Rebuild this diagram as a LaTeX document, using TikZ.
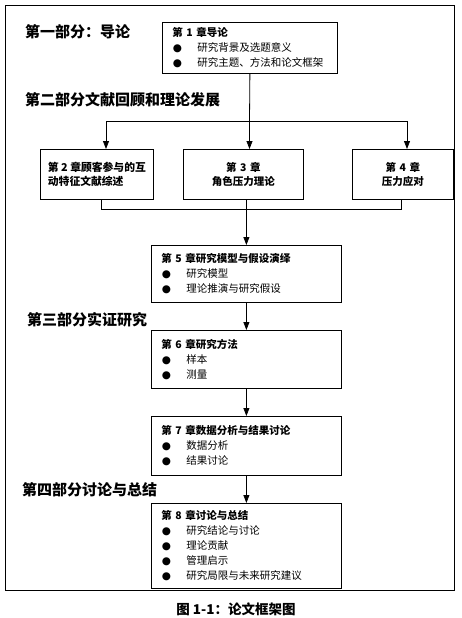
\documentclass[tikz,border=0pt]{standalone}
\usepackage{fontspec}
\setmainfont{Noto Sans CJK SC}
\newfontfamily\dejavu{DejaVu Sans}
\usetikzlibrary{arrows.meta}
\newcommand{\bitem}{\makebox[25pt][l]{\hspace{0.5pt}{\dejavu ●}}}
\tikzset{
  outerframe/.style={draw, line width=1.1pt, anchor=north west, inner sep=0pt},
  chap/.style={draw, line width=0.8pt, anchor=north west, inner xsep=10pt, inner ysep=0pt,
    align=left, font=\fontsize{10.5}{15}\selectfont},
  chapc/.style={draw, line width=0.8pt, anchor=north west, inner xsep=4pt, inner ysep=0pt,
    align=center, font=\fontsize{10.5}{14}\selectfont\bfseries},
  chapl/.style={draw, line width=0.8pt, anchor=north west, inner sep=0pt,
    align=left, font=\fontsize{10.8}{13.5}\selectfont\bfseries},
  part/.style={anchor=west, inner sep=0pt, font=\fontsize{15}{18}\selectfont\bfseries},
  conn/.style={line width=0.8pt},
  arr/.style={line width=0.8pt, -{Triangle[length=8pt,width=6pt]}}
}
\begin{document}
\begin{tikzpicture}[x=1pt,y=-1pt]
\useasboundingbox (0,0) rectangle (461,618);
\node[outerframe, minimum width=449pt, minimum height=585pt] (frame) at (5,5) {};

% section labels
\node[part] (p1) at (25,32) {第一部分：导论};
\node[part] (p2) at (25,100) {第二部分文献回顾和理论发展};
\node[part] (p3) at (27,320) {第三部分实证研究};
\node[part] (p4) at (22,490) {第四部分讨论与总结};

% chapter boxes
\node[chap, text width=155pt, minimum height=51pt] (c1) at (162,22)
  {\textbf{第 1 章导论}\\\bitem 研究背景及选题意义\\\bitem 研究主题、方法和论文框架};
\node[chapl, minimum width=113pt, minimum height=50pt] (c2) at (40,149)
  {第 2 章顾客参与的互\\动特征文献综述};
\node[chapc, text width=112pt, minimum height=50pt] (c3) at (183,149)
  {第 3 章\\角色压力理论};
\node[chapc, text width=93pt, minimum height=50pt] (c4) at (352,149)
  {第 4 章\\压力应对};
\node[chap, text width=170pt, minimum height=57pt] (c5) at (151,245)
  {\textbf{第 5 章研究模型与假设演绎}\\\bitem 研究模型\\\bitem 理论推演与研究假设};
\node[chap, text width=170pt, minimum height=58pt] (c6) at (151,330)
  {\textbf{第 6 章研究方法}\\\bitem 样本\\\bitem 测量};
\node[chap, text width=170pt, minimum height=59pt] (c7) at (151,416)
  {\textbf{第 7 章数据分析与结果讨论}\\\bitem 数据分析\\\bitem 结果讨论};
\node[chap, text width=170pt, minimum height=85pt] (c8) at (151,503)
  {\textbf{第 8 章讨论与总结}\\\bitem 研究结论与讨论\\\bitem 理论贡献\\\bitem 管理启示\\\bitem 研究局限与未来研究建议};

% caption
\node[font=\fontsize{13.5}{16}\selectfont\bfseries, inner sep=0pt] (cap) at (236,609) {图 1-1：论文框架图};

% connectors
\coordinate (j1) at (249.5,121);
\coordinate (jl) at (106,121);
\coordinate (jr) at (407,121);
\draw[conn] (c1.south) -- (j1);
\draw[conn] (jl) -- (jr);
\draw[arr] (jl) -- (jl |- c2.north);
\draw[arr] (j1) -- (j1 |- c3.north);
\draw[arr] (jr) -- (jr |- c4.north);

\coordinate (k2) at (101,209);
\coordinate (k4) at (401,209);
\draw[conn] (k2 |- c2.south) -- (k2) -- (k4) -- (k4 |- c4.south);
\draw[arr] (c5.north |- c3.south) -- (c5.north);
\draw[arr] (c5.south) -- (c6.north);
\draw[arr] (c6.south) -- (c7.north);
\draw[arr] (c7.south) -- (c8.north);
\end{tikzpicture}
\end{document}
